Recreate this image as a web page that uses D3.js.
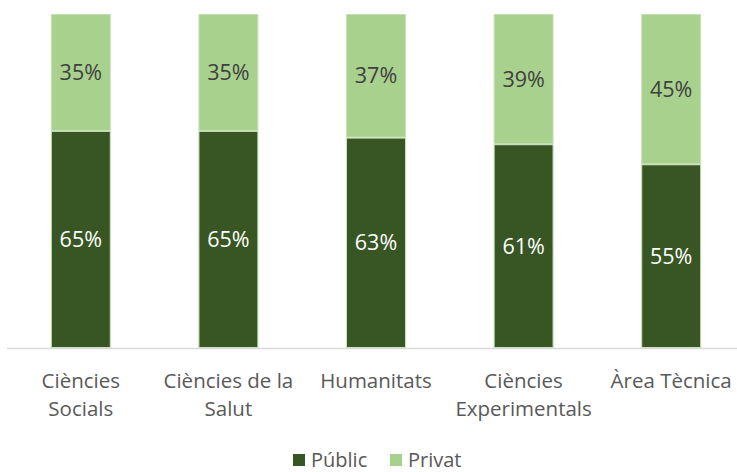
<!DOCTYPE html>
<html>
<head>
<meta charset="utf-8">
<script src="https://cdn.jsdelivr.net/npm/d3@7"></script>
<style>
  html, body { margin: 0; padding: 0; background: #fff; }
  svg { display: block; font-family: "Open Sans", "Noto Sans", sans-serif; }
</style>
</head>
<body>
<svg id="chart" width="737" height="472"></svg>
<script>
// dades
const categories = [["Ciències", "Socials"], ["Ciències de la", "Salut"], ["Humanitats"], ["Ciències", "Experimentals"], ["Àrea Tècnica"]];
const publicVals = [65, 65, 63, 61, 55];
const privatVals = [35, 35, 37, 39, 45];
const seriesNames = ["Públic", "Privat"];

const cfg = {
    left: 7, right: 745, top: 14, bottom: 348,
    colors: { "Públic": "#375623", "Privat": "#a9d18e" },
    stroke: "#c5e0b4"
};

const rows = categories.map((c, i) => ({ key: c.join(" "), lines: c, "Públic": publicVals[i], "Privat": privatVals[i] }));

const svg = d3.select("#chart");

const x = d3.scaleBand().domain(rows.map(d => d.key))
    .range([cfg.left, cfg.right]).paddingInner(0.594).paddingOuter(0.297);
const y = d3.scaleLinear().domain([0, 100]).range([cfg.bottom, cfg.top]);

const stacked = d3.stack().keys(seriesNames)(rows);

const layers = svg.append("g").selectAll("g").data(stacked).enter().append("g")
    .attr("fill", d => cfg.colors[d.key]);

layers.selectAll("rect").data(d => d).enter().append("rect")
    .attr("x", d => x(d.data.key) + 0.5)
    .attr("y", d => y(d[1]) + 0.5)
    .attr("width", x.bandwidth() - 1)
    .attr("height", d => y(d[0]) - y(d[1]) - 1)
    .attr("stroke", cfg.stroke).attr("stroke-width", 1);

layers.each(function (s) {
    d3.select(this).selectAll("text").data(s).enter().append("text")
        .attr("x", d => x(d.data.key) + x.bandwidth() / 2)
        .attr("y", d => (y(d[0]) + y(d[1])) / 2)
        .attr("dy", "0.35em")
        .attr("text-anchor", "middle")
        .attr("font-size", 21.5)
        .attr("fill", s.key === "Públic" ? "#ffffff" : "#404040")
        .text(d => (d[1] - d[0]) + "%");
});

// eix
svg.append("line").attr("x1", cfg.left).attr("x2", 737)
    .attr("y1", cfg.bottom + 0.5).attr("y2", cfg.bottom + 0.5)
    .attr("stroke", "#d9d9d9").attr("stroke-width", 1.5);

const labels = svg.append("g").selectAll("text").data(rows).enter().append("text")
    .attr("text-anchor", "middle").attr("font-size", 20.5).attr("fill", "#595959");
labels.each(function (d) {
    const t = d3.select(this);
    d.lines.forEach((ln, i) => {
        t.append("tspan").attr("x", x(d.key) + x.bandwidth() / 2)
            .attr("y", 388 + i * 28).text(ln);
    });
});

// llegenda
const legendX = [293, 390];
const leg = svg.append("g").selectAll("g").data(seriesNames).enter().append("g")
    .attr("transform", (d, i) => `translate(${legendX[i]},454)`);
leg.append("rect").attr("width", 12).attr("height", 12).attr("fill", d => cfg.colors[d]);
leg.append("text").attr("x", 18).attr("y", 6).attr("dy", "0.35em")
    .attr("font-size", 20).attr("fill", "#595959").text(d => d);
</script>
</body>
</html>
